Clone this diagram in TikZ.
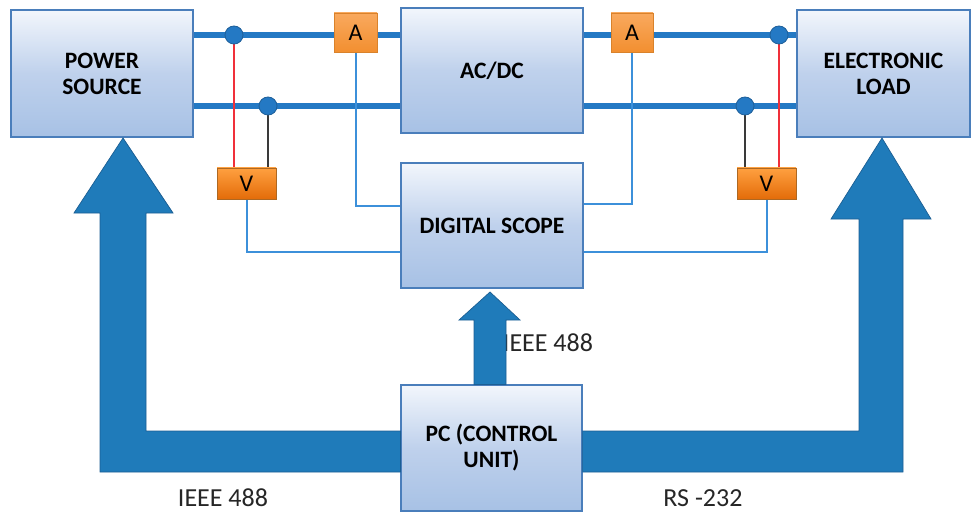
\documentclass[tikz,border=0pt]{standalone}
\usepackage{fontspec}
\setmainfont{Carlito}
\usetikzlibrary{backgrounds}

\definecolor{boxedge}{HTML}{4A7EBB}
\definecolor{boxtop}{HTML}{F2F6FC}
\definecolor{boxmid}{HTML}{BFD1EC}
\definecolor{boxbot}{HTML}{A7C1E5}
\definecolor{wire}{HTML}{2479C4}
\definecolor{dotedge}{HTML}{1E5F99}
\definecolor{probe}{HTML}{3C90DA}
\definecolor{bus}{HTML}{1F7BBA}
\definecolor{busedge}{HTML}{1B5E93}
\definecolor{ammtop}{HTML}{F9A95E}
\definecolor{ammbot}{HTML}{F28F30}
\definecolor{volttop}{HTML}{FFA040}
\definecolor{voltbot}{HTML}{E36C09}
\definecolor{orangeedge}{HTML}{D9822B}
\definecolor{redlead}{HTML}{F0303A}
\definecolor{blacklead}{HTML}{3A3A3A}

\tikzset{
  block/.style={draw=boxedge, line width=1.2pt, top color=boxtop,
    bottom color=boxbot, middle color=boxmid, align=center, inner sep=0pt,
    font=\bfseries\fontsize{23.5}{26}\selectfont, text=black},
  ammeter/.style={draw=orangeedge, line width=0.8pt, top color=ammtop,
    bottom color=ammbot, inner sep=0pt, font=\fontsize{24}{24}\selectfont},
  voltmeter/.style={draw=orangeedge!80!black, line width=0.6pt, top color=volttop,
    bottom color=voltbot, inner sep=0pt, font=\fontsize{24}{24}\selectfont},
  junction/.style={circle, fill=wire, draw=dotedge, line width=0.8pt,
    minimum size=18pt, inner sep=0pt},
  powerline/.style={draw=wire, line width=5.5pt},
  sigline/.style={draw=probe, line width=2pt},
  redwire/.style={draw=redlead, line width=1.5pt},
  blackwire/.style={draw=blacklead, line width=2pt},
  busarrow/.style={fill=bus, draw=busedge, line width=0.7pt, line join=miter},
  buslabel/.style={font=\fontsize{26}{26}\selectfont, text=black!85, inner sep=0pt}
}

\begin{document}
\begin{tikzpicture}[x=1pt,y=-1pt]
\useasboundingbox (0,0) rectangle (971,513);

% main blocks
\node[block, minimum width=182pt, minimum height=127pt] (ps) at (102,73.5) {POWER\\SOURCE};
\node[block, minimum width=182pt, minimum height=125pt] (acdc) at (492,70.5) {AC/DC};
\node[block, minimum width=182pt, minimum height=125pt] (scope) at (492,225.5) {DIGITAL SCOPE};
\node[block, minimum width=181pt, minimum height=126pt] (pc) at (491.5,448) {PC (CONTROL\\UNIT)};
\node[block, minimum width=173pt, minimum height=127pt] (load) at (883.5,73.5) {ELECTRONIC\\LOAD};

% junctions on the supply lines
\node[junction] (d1) at (234,35) {};
\node[junction] (d2) at (268,106) {};
\node[junction] (d3) at (779,35) {};
\node[junction] (d4) at (745,106) {};

% meters
\node[ammeter, minimum width=43pt, minimum height=39pt] (a1) at (355.5,32.5) {A};
\node[ammeter, minimum width=42pt, minimum height=39pt] (a2) at (632,32.5) {A};
\node[voltmeter, minimum width=59pt, minimum height=31pt] (v1) at (246.5,183.5) {V};
\node[voltmeter, minimum width=59pt, minimum height=31pt] (v2) at (766.5,183.5) {V};

\begin{pgfonlayer}{background}
  % supply lines
  \draw[powerline] (ps.east |- d1) -- (acdc.west |- d1);
  \draw[powerline] (ps.east |- d2) -- (acdc.west |- d2);
  \draw[powerline] (acdc.east |- d3) -- (load.west |- d3);
  \draw[powerline] (acdc.east |- d4) -- (load.west |- d4);
  % meter outputs to the scope
  \draw[sigline] (a1.south) |- ([yshift=-44pt]scope.north west);
  \draw[sigline] (a2.south) |- ([yshift=-42pt]scope.north east);
  \draw[sigline] (v1.south) |- ([yshift=-90pt]scope.north west);
  \draw[sigline] (v2.south) |- ([yshift=-90pt]scope.north east);
  % voltmeter leads
  \draw[blackwire] (d2) -- (d2 |- v1.north);
  \draw[redwire] (d1) -- (d1 |- v1.north);
  \draw[blackwire] (d4) -- (d4 |- v2.north);
  \draw[redwire] (d3) -- (d3 |- v2.north);
\end{pgfonlayer}

% bus labels
\node[buslabel] (lbl1) at (548,343) {IEEE 488};
\node[buslabel] (lbl2) at (223,498) {IEEE 488};
\node[buslabel] (lbl3) at (703,498) {RS -232};

% control buses
\coordinate (ltip) at (123,138);
\coordinate (rtip) at (882,138);
\coordinate (mtip) at (490,292);
\draw[busarrow] (pc.west |- 0,431) -- (146,431) -- (146,213) -- (173,213) -- (ltip)
  -- (74,213) -- (100,213) -- (100,472) -- (pc.west |- 0,472) -- cycle;
\draw[busarrow] (pc.east |- 0,431) -- (859,431) -- (859,219) -- (831,219) -- (rtip)
  -- (931,219) -- (903,219) -- (903,472) -- (pc.east |- 0,472) -- cycle;
\draw[busarrow] (474,0 |- pc.north) -- (474,320) -- (459,320) -- (mtip)
  -- (520,320) -- (506,320) -- (506,0 |- pc.north) -- cycle;
\end{tikzpicture}
\end{document}
